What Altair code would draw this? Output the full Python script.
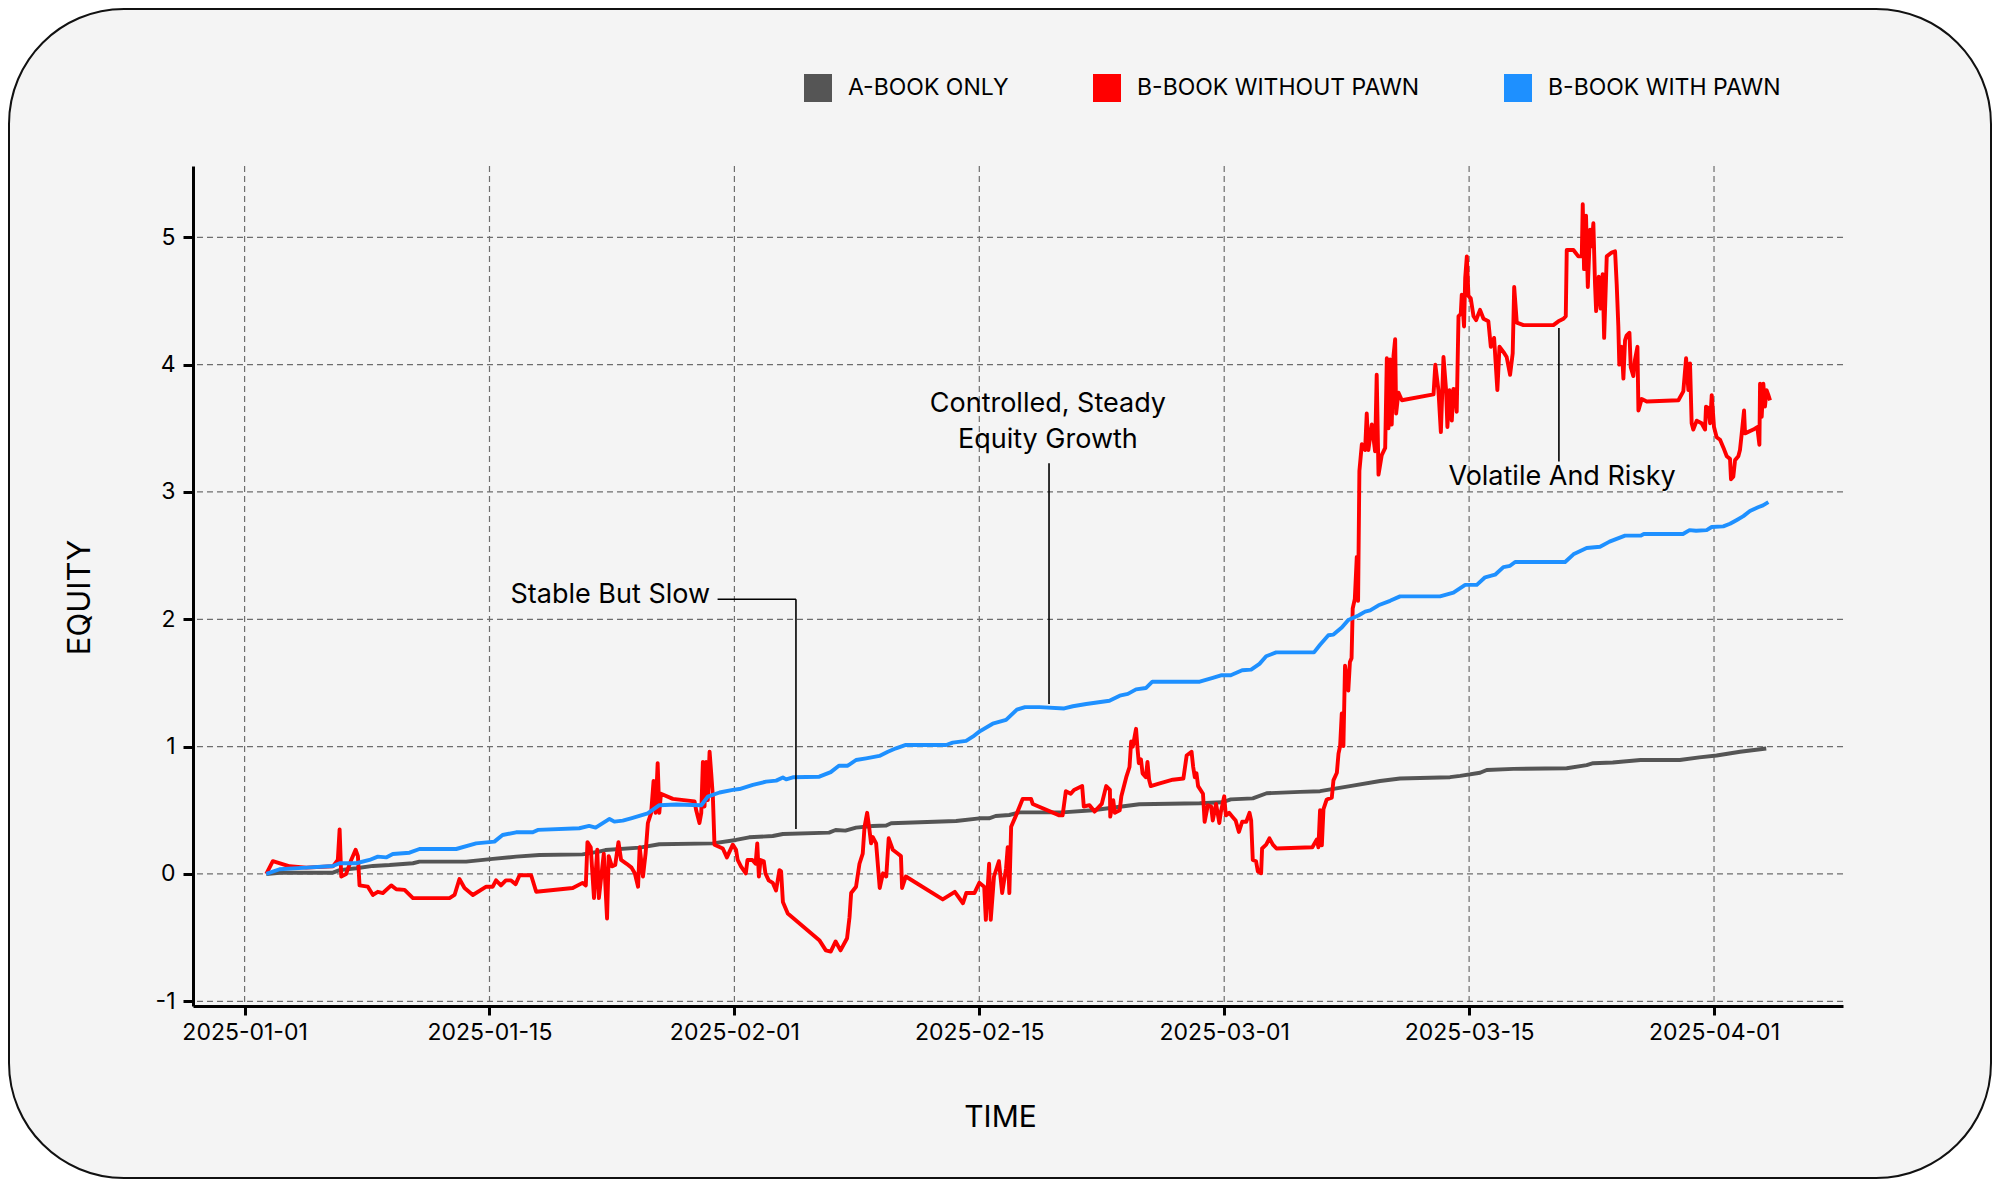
import json
import altair as alt
import pandas as pd

# ---------------- data ----------------
SERIES = ["A-BOOK ONLY", "B-BOOK WITHOUT PAWN", "B-BOOK WITH PAWN"]
COLORS = ["#555555", "#ff0000", "#1e90ff"]

TICK_DAYS = [0, 15, 30, 45, 60, 75, 90]
TICK_LABELS = ["2025-01-01", "2025-01-15", "2025-02-01", "2025-02-15",
               "2025-03-01", "2025-03-15", "2025-04-01"]
Y_TICKS = [-1, 0, 1, 2, 3, 4, 5]

A_DAY = [1.33, 2.14, 5.41, 5.82, 6.84, 7.86, 8.88, 10.31, 10.71, 13.57, 15.2, 16.63,
         18.06, 20.7, 21.7, 22.1, 24.2, 25.4, 28.68, 30.1, 30.9, 32.35, 32.97, 35.8,
         36.2, 36.8, 37.45, 38.47, 39.3, 39.6, 43.58, 45.0, 45.6, 46.0, 46.84, 47.45,
         50.1, 51.95, 54.8, 58.5, 59.9, 60.4, 61.75, 62.6, 64.65, 65.87, 67.7, 69.55,
         70.77, 73.83, 74.45, 75.67, 76.08, 77.71, 80.98, 82.2, 82.6, 83.8, 85.5, 87.9,
         89.1, 90.16, 91.6, 93.2]
A_VAL = [0.0, 0.01, 0.01, 0.03, 0.045, 0.063, 0.07, 0.084, 0.097, 0.097, 0.118, 0.136,
         0.149, 0.154, 0.175, 0.188, 0.207, 0.233, 0.24, 0.267, 0.288, 0.298, 0.314, 0.325,
         0.345, 0.34, 0.364, 0.377, 0.38, 0.398, 0.416, 0.437, 0.437, 0.455, 0.463, 0.484,
         0.484, 0.50, 0.547, 0.555, 0.563, 0.586, 0.594, 0.634, 0.645, 0.65, 0.69, 0.73,
         0.75, 0.76, 0.77, 0.795, 0.816, 0.825, 0.83, 0.855, 0.87, 0.875, 0.895, 0.895,
         0.916, 0.93, 0.96, 0.985]

B_DAY = [1.33, 1.73, 2.76, 3.78, 5.41, 5.71, 5.82, 5.92, 6.22, 6.53, 6.80, 6.94, 7.04,
         7.55, 7.86, 8.16, 8.47, 8.98, 9.29, 9.80, 10.31, 12.55, 12.86, 13.16, 13.47,
         13.98, 14.80, 15.2, 15.4, 15.7, 16.0, 16.3, 16.6, 16.84, 17.55, 17.86, 20.1,
         20.7, 20.9, 21.0, 21.2, 21.4, 21.6, 21.7, 22.0, 22.2, 22.3, 22.5, 22.7, 22.9,
         23.06, 23.4, 23.7, 23.9, 24.1, 24.2, 24.4, 24.56, 24.7, 24.9, 25.05, 25.17,
         25.3, 25.4, 25.5, 26.23, 27.56, 27.66, 27.86, 27.97, 28.07, 28.17, 28.27, 28.37,
         28.48, 28.58, 28.68, 28.78, 29.29, 29.54, 29.9, 30.1, 30.2, 30.4, 30.7, 30.8,
         31.1, 31.3, 31.4, 31.5, 31.6, 31.8, 31.9, 32.1, 32.35, 32.55, 32.76, 32.86,
         32.97, 33.27, 35.2, 35.6, 35.9, 36.2, 36.5, 36.9, 37.05, 37.15, 37.45, 37.66,
         37.86, 37.97, 38.13, 38.27, 38.37, 38.47, 38.68, 38.9, 39.1, 39.3, 39.45, 39.7,
         40.0, 40.2, 40.27, 40.5, 42.76, 43.5, 44.0, 44.2, 44.7, 45.0, 45.3, 45.4, 45.6,
         45.7, 45.9, 46.2, 46.4, 46.64, 46.74, 46.84, 46.95, 47.25, 47.66, 48.17, 48.27,
         49.9, 50.1, 50.3, 50.6, 50.8, 51.3, 51.4, 51.75, 52.06, 52.5, 52.77, 53.0,
         53.02, 53.2, 53.3, 53.6, 53.7, 54.0, 54.2, 54.3, 54.4, 54.6, 54.7, 54.77, 54.9,
         55.0, 55.2, 55.3, 55.4, 55.5, 56.0, 56.85, 57.5, 57.7, 58.0, 58.1, 58.2, 58.3,
         58.4, 58.7, 58.8, 59.0, 59.2, 59.3, 59.5, 59.7, 59.8, 59.9, 60.0, 60.1, 60.3,
         60.5, 60.7, 60.9, 61.1, 61.35, 61.55, 61.65, 61.75, 61.95, 62.06, 62.26, 62.32,
         62.57, 62.77, 62.98, 63.2, 65.4, 65.67, 65.77, 65.87, 65.98, 66.08, 66.28,
         66.59, 66.69, 66.9, 67.0, 67.1, 67.2, 67.3, 67.4, 67.6, 67.7, 67.8, 67.87, 68.0,
         68.12, 68.2, 68.28, 68.43, 68.63, 68.73, 68.83, 69.04, 69.24, 69.34, 69.45,
         69.65, 69.86, 69.96, 70.06, 70.16, 70.26, 70.37, 70.47, 70.53, 70.67, 70.88,
         72.82, 72.93, 73.12, 73.27, 73.43, 73.59, 73.67, 73.8, 73.94, 74.04, 74.14,
         74.24, 74.35, 74.49, 74.55, 74.69, 74.76, 74.86, 74.96, 75.1, 75.27, 75.43,
         75.67, 75.88, 76.18, 76.33, 76.53, 76.73, 76.86, 77.1, 77.3, 77.51, 77.67,
         77.76, 77.92, 78.33, 80.16, 80.47, 80.78, 80.92, 80.98, 81.39, 81.69, 81.9,
         81.96, 82.04, 82.16, 82.27, 82.41, 82.51, 82.61, 82.71, 82.78, 82.86, 82.94,
         83.06, 83.18, 83.27, 83.43, 83.73, 83.94, 84.04, 84.14, 84.2, 84.35, 84.45,
         84.55, 84.65, 84.82, 84.9, 85.06, 85.16, 85.31, 85.37, 85.57, 85.88, 87.82,
         88.12, 88.29, 88.43, 88.53, 88.63, 88.73, 88.94, 89.24, 89.45, 89.51, 89.65,
         89.76, 89.86, 90.0, 90.16, 90.37, 90.57, 90.78, 90.98, 91.04, 91.18, 91.29,
         91.49, 91.59, 91.69, 91.84, 91.9, 92.41, 92.65, 92.78, 92.82, 92.92, 93.02,
         93.12, 93.22, 93.33, 93.43]
B_VAL = [0.0, 0.10, 0.06, 0.05, 0.06, 0.11, 0.35, -0.02, 0.0, 0.11, 0.19, 0.14, -0.09,
         -0.10, -0.165, -0.14, -0.15, -0.09, -0.12, -0.125, -0.19, -0.19, -0.165, -0.04,
         -0.11, -0.165, -0.10, -0.10, -0.05, -0.09, -0.05, -0.05, -0.08, -0.01, -0.01,
         -0.14, -0.11, -0.07, -0.09, 0.25, 0.21, -0.19, 0.19, -0.19, 0.16, -0.35, 0.14,
         0.06, 0.07, 0.25, 0.11, 0.08, 0.05, 0.005, -0.10, 0.21, -0.02, 0.16, 0.40, 0.48,
         0.73, 0.48, 0.87, 0.48, 0.63, 0.59, 0.57, 0.50, 0.40, 0.48, 0.88, 0.53, 0.88,
         0.58, 0.96, 0.79, 0.61, 0.23, 0.20, 0.13, 0.23, 0.19, 0.11, 0.06, 0.005, 0.11,
         0.11, 0.08, 0.24, -0.02, 0.11, 0.10, 0.005, -0.05, -0.07, -0.13, 0.03, 0.02,
         -0.22, -0.31, -0.52, -0.60, -0.61, -0.53, -0.60, -0.505, -0.34, -0.15, -0.10,
         0.08, 0.16, 0.37, 0.48, 0.35, 0.24, 0.29, 0.24, -0.11, 0.005, -0.02, 0.28, 0.19,
         0.16, 0.14, -0.11, -0.02, -0.20, -0.14, -0.23, -0.15, -0.15, -0.07, -0.10,
         -0.36, 0.08, -0.36, -0.02, 0.10, -0.15, 0.045, 0.21, -0.15, 0.37, 0.46, 0.59,
         0.59, 0.55, 0.46, 0.46, 0.65, 0.63, 0.66, 0.69, 0.53, 0.54, 0.49, 0.55, 0.69,
         0.66, 0.45, 0.58, 0.48, 0.50, 0.61, 0.76, 0.84, 1.04, 1.00, 1.14, 0.97, 0.87,
         0.90, 0.79, 0.76, 0.88, 0.74, 0.69, 0.71, 0.74, 0.75, 0.93, 0.96, 0.84, 0.76,
         0.79, 0.69, 0.63, 0.41, 0.54, 0.53, 0.42, 0.55, 0.40, 0.49, 0.55, 0.61, 0.46,
         0.48, 0.45, 0.42, 0.33, 0.41, 0.41, 0.48, 0.42, 0.11, 0.10, 0.02, 0.005, 0.20,
         0.23, 0.28, 0.23, 0.20, 0.21, 0.27, 0.21, 0.50, 0.225, 0.51, 0.585, 0.60, 0.735,
         0.795, 0.945, 1.005, 1.26, 1.005, 1.635, 1.44, 1.665, 1.695, 2.085, 2.16, 2.49,
         2.145, 3.166, 3.375, 3.33, 3.616, 3.33, 3.53, 3.32, 3.92, 3.136, 3.29, 3.346,
         4.05, 3.50, 4.04, 3.53, 4.07, 4.20, 3.616, 3.78, 3.72, 3.766, 4.0, 3.80, 3.47,
         4.06, 3.80, 3.51, 3.80, 3.56, 3.81, 3.80, 3.63, 4.38, 4.40, 4.55, 4.30, 4.68,
         4.85, 4.54, 4.52, 4.38, 4.35, 4.43, 4.36, 4.34, 4.14, 4.21, 3.80, 4.14, 4.10,
         4.06, 3.92, 4.09, 4.61, 4.33, 4.31, 4.31, 4.34, 4.36, 4.38, 4.90, 4.90, 4.85,
         4.85, 5.26, 4.75, 5.17, 4.61, 5.06, 4.93, 5.11, 4.64, 4.42, 4.54, 4.69, 4.44,
         4.71, 4.21, 4.85, 4.88, 4.89, 4.63, 4.30, 4.00, 4.14, 3.89, 4.19, 4.23, 4.25,
         3.98, 3.91, 4.04, 4.14, 3.64, 3.73, 3.71, 3.72, 3.79, 4.05, 3.80, 4.01, 3.54,
         3.49, 3.56, 3.54, 3.49, 3.67, 3.66, 3.54, 3.76, 3.51, 3.43, 3.41, 3.35, 3.28,
         3.26, 3.10, 3.12, 3.25, 3.28, 3.33, 3.45, 3.64, 3.46, 3.49, 3.51, 3.37, 3.85,
         3.59, 3.85, 3.67, 3.80, 3.76, 3.72]

C_DAY = [1.33, 2.14, 3.78, 5.41, 5.82, 6.84, 7.65, 8.16, 8.67, 9.08, 10.1, 10.71, 12.96,
         14.18, 15.3, 15.8, 16.63, 17.65, 17.96, 20.5, 21.1, 21.5, 22.35, 22.65, 23.16,
         23.67, 24.69, 25.4, 26.43, 27.97, 28.37, 29.09, 29.9, 30.31, 31.13, 31.94, 32.56,
         32.97, 33.17, 33.58, 35.2, 35.9, 36.4, 36.94, 37.45, 38.07, 38.88, 39.4, 39.9,
         40.5, 42.97, 43.37, 44.19, 44.6, 45.0, 45.82, 46.64, 47.3, 47.8, 48.69, 50.2,
         50.73, 51.55, 52.97, 53.6, 54.1, 54.6, 55.2, 55.6, 58.5, 59.3, 59.8, 60.4, 61.1,
         61.65, 62.16, 62.57, 63.18, 65.5, 65.87, 66.38, 66.69, 67.2, 67.6, 68.22, 68.63,
         68.94, 69.45, 70.16, 70.77, 73.22, 74.04, 74.76, 75.47, 75.98, 76.59, 77.1,
         77.51, 77.82, 80.88, 81.39, 82.2, 83.02, 83.6, 84.55, 85.5, 85.7, 88.1, 88.5,
         88.9, 89.55, 89.86, 90.57, 90.98, 91.4, 91.8, 92.2, 92.7, 93.0, 93.33]
C_VAL = [0.0, 0.037, 0.05, 0.063, 0.084, 0.084, 0.11, 0.136, 0.13, 0.157, 0.167, 0.196,
         0.196, 0.24, 0.254, 0.306, 0.327, 0.327, 0.346, 0.359, 0.377, 0.364, 0.432,
         0.411, 0.419, 0.437, 0.476, 0.54, 0.546, 0.54, 0.607, 0.64, 0.66, 0.667, 0.70,
         0.725, 0.733, 0.757, 0.743, 0.759, 0.764, 0.80, 0.85, 0.85, 0.895, 0.908, 0.927,
         0.96, 0.987, 1.013, 1.013, 1.031, 1.045, 1.078, 1.118, 1.18, 1.21, 1.29, 1.31,
         1.31, 1.30, 1.317, 1.335, 1.36, 1.40, 1.414, 1.45, 1.46, 1.51, 1.51, 1.54, 1.56,
         1.56, 1.60, 1.605, 1.65, 1.71, 1.74, 1.74, 1.80, 1.875, 1.88, 1.935, 1.995, 2.03,
         2.06, 2.07, 2.11, 2.145, 2.18, 2.18, 2.21, 2.27, 2.27, 2.33, 2.35, 2.41, 2.42,
         2.45, 2.45, 2.51, 2.56, 2.57, 2.61, 2.657, 2.657, 2.67, 2.67, 2.70, 2.695, 2.70,
         2.725, 2.73, 2.75, 2.78, 2.81, 2.85, 2.88, 2.895, 2.92]

ANN_RIGHT_TEXT = ["Stable But Slow"]
ANN_RIGHT_DAY = [28.51]
ANN_RIGHT_VAL = [2.192]
ANN_CENTER_TEXT = ["Controlled, Steady\nEquity Growth", "Volatile And Risky"]
ANN_CENTER_DAY = [49.2, 80.69]
ANN_CENTER_VAL = [3.69, 3.116]

LEAD_DAY = [28.97, 33.77, 49.27, 80.5]
LEAD_DAY2 = [33.77, 33.77, 49.27, 80.5]
LEAD_VAL = [2.158, 2.158, 3.226, 4.287]
LEAD_VAL2 = [2.158, 0.353, 1.335, 3.24]

# ---------------- tables ----------------
def series_df(name, days, vals):
    return pd.DataFrame({"series": name, "day": days, "value": vals,
                         "idx": list(range(len(days)))})

line_dfs = [series_df(SERIES[0], A_DAY, A_VAL),
            series_df(SERIES[1], B_DAY, B_VAL),
            series_df(SERIES[2], C_DAY, C_VAL)]

W, H = 1650, 840
FONT = "Inter"

xscale = alt.Scale(domain=[-3.16, 97.9], nice=False, zero=False)
yscale = alt.Scale(domain=[-1.037, 5.56], nice=False, zero=False)

label_expr = json.dumps(TICK_LABELS) + "[round(datum.value / 15)]"

xaxis = alt.Axis(values=TICK_DAYS, labelExpr=label_expr, title="TIME", grid=False,
                 domainColor="black", domainWidth=3, tickColor="black", tickWidth=3,
                 tickSize=9, labelFont=FONT, labelFontSize=23, labelColor="black",
                 labelPadding=6, labelFlush=False, labelOverlap=False,
                 titleFont=FONT, titleFontSize=30, titleFontWeight="normal",
                 titleColor="black", titleX=807, titleY=111, titleBaseline="middle",
                 titleAlign="center", zindex=1)
yaxis = alt.Axis(values=Y_TICKS, labelExpr="'' + datum.value", title="EQUITY", grid=False,
                 domainColor="black", domainWidth=3, tickColor="black", tickWidth=3,
                 tickSize=10, labelFont=FONT, labelFontSize=23, labelColor="black",
                 labelPadding=8, labelFlush=False, labelOverlap=False,
                 titleFont=FONT, titleFontSize=31, titleFontWeight="normal",
                 titleColor="black", titleAngle=270, titleX=-113, titleY=431,
                 titleBaseline="middle", titleAlign="center", zindex=1)

X = alt.X("day:Q", scale=xscale, axis=xaxis)
Y = alt.Y("value:Q", scale=yscale, axis=yaxis)

# rounded frame / background
frame = alt.Chart(alt.Data(values=[{"k": 1}])).mark_rect(
    fill="#f4f4f4", stroke="#111111", strokeWidth=2, cornerRadius=115
).encode(x=alt.value(-184), x2=alt.value(W + 148), y=alt.value(-157), y2=alt.value(H + 172))

# gridlines
vgrid = alt.Chart(pd.DataFrame({"day": TICK_DAYS})).mark_rule(
    color="#6e6e6e", strokeWidth=1.2, strokeDash=[6, 4]).encode(x=X)
hgrid = alt.Chart(pd.DataFrame({"value": Y_TICKS})).mark_rule(
    color="#6e6e6e", strokeWidth=1.2, strokeDash=[6, 4]).encode(y=Y)

# lines
lines = []
for df, col in zip(line_dfs, COLORS):
    lines.append(alt.Chart(df).mark_line(color=col, strokeWidth=3.9, strokeJoin="round")
                 .encode(x=X, y=Y, order="idx:Q"))

# legend carrier (invisible squares)
legend_layer = alt.Chart(pd.DataFrame({"series": SERIES})).mark_square(
    size=784, opacity=0, filled=True
).encode(
    x=alt.value(0), y=alt.value(0),
    color=alt.Color("series:N", scale=alt.Scale(domain=SERIES, range=COLORS),
                    legend=alt.Legend(orient="none", legendX=611, legendY=-92,
                                      direction="horizontal", columns=3, title=None,
                                      symbolType="square", symbolSize=784,
                                      symbolStrokeWidth=0, symbolOpacity=1,
                                      labelFont=FONT, labelFontSize=23,
                                      labelColor="black", labelOffset=16,
                                      columnPadding=84, padding=0, labelLimit=500,
                                      zindex=1))
)

# annotations
leaders = alt.Chart(pd.DataFrame({"day": LEAD_DAY, "day2": LEAD_DAY2,
                                  "value": LEAD_VAL, "value2": LEAD_VAL2})).mark_rule(
    color="black", strokeWidth=1.6).encode(x=X, x2="day2:Q", y=Y, y2="value2:Q")

ann_right = alt.Chart(pd.DataFrame({"t": ANN_RIGHT_TEXT, "day": ANN_RIGHT_DAY,
                                    "value": ANN_RIGHT_VAL})).mark_text(
    align="right", baseline="middle", font=FONT, fontSize=27, color="black"
).encode(x=X, y=Y, text="t:N")

ann_center = alt.Chart(pd.DataFrame({"t": ANN_CENTER_TEXT, "day": ANN_CENTER_DAY,
                                     "value": ANN_CENTER_VAL})).mark_text(
    align="center", baseline="middle", font=FONT, fontSize=27, color="black",
    lineBreak="\n", lineHeight=36
).encode(x=X, y=Y, text="t:N")

chart = alt.layer(frame, vgrid, hgrid, *lines, legend_layer, leaders, ann_right,
                  ann_center).properties(
    width=W, height=H,
    autosize=alt.AutoSizeParams(type="none"),
    padding={"left": 185, "top": 158, "right": 149, "bottom": 173},
    background="white",
).configure_view(strokeWidth=0)

chart.save("out.html", embed_options={"renderer": "svg", "actions": False})
